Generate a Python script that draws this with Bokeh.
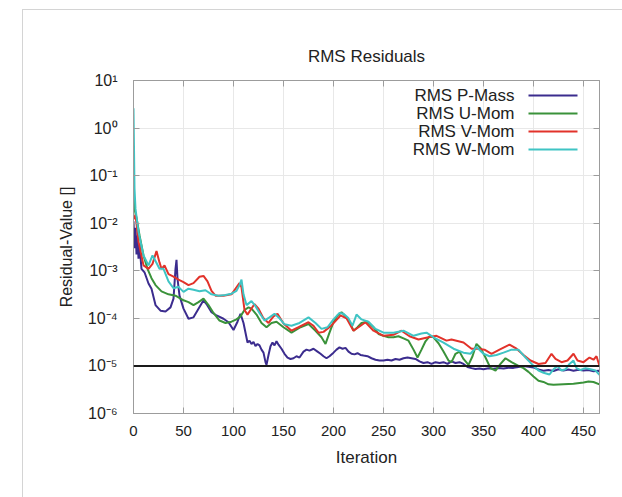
from bokeh.plotting import figure
from bokeh.models import (Range1d, FixedTicker, LinearAxis, LogAxis, Span, Label,
                          BoxAnnotation, CustomJSTickFormatter)
from bokeh.embed import file_html
from bokeh.resources import INLINE

FONT = "Liberation Sans"

# ---------------- data ----------------
x_ticks = [0, 50, 100, 150, 200, 250, 300, 350, 400, 450]
y_ticks = [1e-6, 1e-5, 1e-4, 1e-3, 1e-2, 1e-1, 1, 10]
y_tick_labels = ["10⁻⁶", "10⁻⁵", "10⁻⁴", "10⁻³", "10⁻²", "10⁻¹", "10⁰", "10¹"]
threshold = 1e-5

series_names = ["RMS P-Mass", "RMS U-Mom", "RMS V-Mom", "RMS W-Mom"]
series_colors = ["#3b2c8e", "#3a923a", "#e2322a", "#3fc4c4"]

pmass_iter = [0, 1, 2, 3, 4, 5, 6, 8, 11, 15, 18, 22, 27, 32, 37, 40, 42, 43, 44, 46,
              50, 55, 60, 65, 70, 73, 78, 83, 90, 95, 100, 104, 107, 110, 114, 116,
              118, 120, 122, 124, 126, 128, 130, 132, 133, 135, 137, 139, 141, 143,
              145, 148, 151, 154, 157, 160, 163, 166, 170, 173, 176, 180, 184, 187,
              190, 193, 196, 200, 203, 206, 209, 212, 215, 218, 221, 224, 227, 230,
              234, 238, 242, 246, 250, 254, 258, 262, 266, 270, 274, 278, 282, 286,
              290, 294, 298, 302, 306, 310, 314, 318, 322, 326, 330, 334, 338, 342,
              346, 350, 355, 360, 365, 370, 375, 380, 385, 390, 395, 400, 405, 410,
              415, 420, 425, 430, 435, 440, 445, 450, 455, 460, 465, 470]
pmass_val = [1.1e-2, 3.0e-3, 8.0e-3, 2.2e-3, 5.5e-3, 1.8e-3, 3.5e-3, 1.1e-3, 9.3e-4,
             5.4e-4, 4.2e-4, 1.9e-4, 1.45e-4, 1.4e-4, 1.7e-4, 2.6e-4, 1.1e-3, 1.7e-3,
             6.8e-4, 3.0e-4, 1.6e-4, 9.8e-5, 1.05e-4, 1.6e-4, 2.4e-4, 2.0e-4, 1.35e-4,
             1.15e-4, 9.8e-5, 8.3e-5, 5.7e-5, 8.5e-5, 1.25e-4, 8.0e-5, 3.1e-5, 3.4e-5,
             2.9e-5, 3.2e-5, 2.6e-5, 2.9e-5, 2.7e-5, 2.2e-5, 1.9e-5, 1.2e-5, 1.05e-5,
             1.7e-5, 2.6e-5, 3.1e-5, 2.7e-5, 3.3e-5, 2.8e-5, 2.3e-5, 1.8e-5, 1.5e-5,
             1.4e-5, 1.45e-5, 1.6e-5, 1.5e-5, 2.0e-5, 2.2e-5, 2.1e-5, 2.3e-5, 2.0e-5,
             1.8e-5, 1.6e-5, 1.45e-5, 1.6e-5, 1.9e-5, 2.2e-5, 2.45e-5, 2.3e-5, 2.4e-5,
             2.0e-5, 1.8e-5, 1.75e-5, 1.85e-5, 1.7e-5, 1.65e-5, 1.6e-5, 1.45e-5,
             1.35e-5, 1.3e-5, 1.3e-5, 1.35e-5, 1.3e-5, 1.4e-5, 1.35e-5, 1.45e-5,
             1.5e-5, 1.45e-5, 1.4e-5, 1.25e-5, 1.15e-5, 1.2e-5, 1.1e-5, 1.2e-5,
             1.15e-5, 1.2e-5, 1.1e-5, 1.25e-5, 1.15e-5, 1.2e-5, 1.1e-5, 9.5e-6,
             9.0e-6, 8.6e-6, 8.8e-6, 8.5e-6, 8.9e-6, 8.7e-6, 9.0e-6, 8.8e-6, 9.2e-6,
             9.1e-6, 9.5e-6, 1.0e-5, 9.6e-6, 9.3e-6, 8.4e-6, 7.9e-6, 8.2e-6, 7.8e-6,
             8.5e-6, 8.0e-6, 8.4e-6, 7.9e-6, 8.3e-6, 8.0e-6, 8.2e-6, 7.7e-6, 7.9e-6,
             7.4e-6]

umom_iter = [0, 1, 3, 6, 10, 14, 18, 22, 28, 35, 42, 50, 55, 60, 65, 70, 75, 80, 86,
             92, 98, 103, 107, 111, 115, 118, 123, 128, 133, 138, 143, 150, 158, 167,
             175, 182, 188, 192, 196, 200, 204, 208, 212, 216, 220, 224, 228, 234,
             240, 245, 250, 255, 260, 265, 270, 275, 280, 284, 288, 292, 296, 300,
             305, 310, 315, 318, 322, 326, 330, 335, 339, 343, 347, 352, 357, 362,
             367, 372, 378, 385, 390, 395, 400, 405, 410, 415, 420, 430, 440, 450,
             455, 460, 466, 470]
umom_val = [5.4e-2, 2.0e-2, 1.3e-2, 5.6e-3, 2.1e-3, 1.1e-3, 7.0e-4, 5.0e-4, 3.7e-4,
            3.2e-4, 3.0e-4, 2.4e-4, 2.2e-4, 1.9e-4, 2.2e-4, 2.6e-4, 1.9e-4, 1.3e-4,
            9.0e-5, 8.0e-5, 8.5e-5, 9.5e-5, 1.1e-4, 1.5e-4, 1.7e-4, 1.6e-4, 1.2e-4,
            8.0e-5, 6.5e-5, 8.0e-5, 8.5e-5, 6.5e-5, 5.0e-5, 6.5e-5, 7.6e-5, 5.5e-5,
            4.0e-5, 2.9e-5, 5.0e-5, 8.3e-5, 1.15e-4, 1.35e-4, 1.1e-4, 8.5e-5, 5.5e-5,
            6.5e-5, 8.0e-5, 8.5e-5, 6.5e-5, 4.7e-5, 4.3e-5, 4.0e-5, 4.0e-5, 4.2e-5,
            3.8e-5, 3.4e-5, 2.2e-5, 1.5e-5, 2.2e-5, 3.3e-5, 4.2e-5, 4.0e-5, 3.0e-5,
            2.0e-5, 1.3e-5, 1.2e-5, 1.8e-5, 2.0e-5, 1.4e-5, 1.05e-5, 1.6e-5, 2.9e-5,
            2.4e-5, 1.5e-5, 9.0e-6, 8.0e-6, 1.1e-5, 1.45e-5, 1.2e-5, 1.0e-5, 9.0e-6,
            7.5e-6, 6.0e-6, 4.9e-6, 4.6e-6, 4.1e-6, 4.0e-6, 4.1e-6, 4.2e-6, 4.5e-6,
            4.7e-6, 4.6e-6, 4.1e-6, 3.8e-6]

vmom_iter = [0, 2, 5, 10, 15, 19, 23, 26, 28, 31, 35, 40, 45, 50, 55, 60, 66, 70, 74,
             78, 82, 90, 98, 103, 106, 108, 111, 114, 117, 121, 125, 130, 135, 140,
             144, 150, 158, 165, 175, 180, 185, 190, 198, 207, 213, 220, 225, 232,
             240, 250, 260, 268, 276, 285, 295, 303, 313, 318, 325, 330, 338, 345,
             351, 358, 366, 376, 383, 390, 397, 405, 412, 418, 422, 428, 434, 440,
             444, 450, 456, 460, 463, 466, 470]
vmom_val = [1.2e-2, 1.5e-2, 4.1e-3, 1.3e-3, 1.1e-3, 1.4e-3, 2.6e-3, 1.5e-3, 1.1e-3,
            1.3e-3, 8.5e-4, 7.5e-4, 6.5e-4, 5.8e-4, 5.0e-4, 5.5e-4, 7.5e-4, 7.8e-4,
            6.0e-4, 3.8e-4, 3.0e-4, 3.0e-4, 3.2e-4, 4.5e-4, 5.5e-4, 4.5e-4, 1.5e-4,
            1.2e-4, 1.5e-4, 2.0e-4, 1.6e-4, 1.0e-4, 8.0e-5, 1.1e-4, 1.25e-4, 7.8e-5,
            5.5e-5, 6.5e-5, 8.3e-5, 7.0e-5, 5.0e-5, 5.2e-5, 7.1e-5, 1.15e-4, 1.0e-4,
            5.5e-5, 6.5e-5, 8.3e-5, 5.5e-5, 4.3e-5, 4.5e-5, 5.5e-5, 4.2e-5, 3.6e-5,
            4.0e-5, 4.3e-5, 3.4e-5, 3.6e-5, 3.3e-5, 3.1e-5, 2.3e-5, 2.3e-5, 2.2e-5,
            1.8e-5, 2.2e-5, 2.8e-5, 2.3e-5, 1.7e-5, 1.3e-5, 1.1e-5, 1.15e-5, 1.8e-5,
            1.4e-5, 1.2e-5, 1.3e-5, 1.8e-5, 1.3e-5, 1.2e-5, 1.5e-5, 1.35e-5, 1.6e-5,
            1.0e-5, 8.0e-6]

wmom_iter = [0, 1, 2, 5, 10, 15, 19, 22, 26, 30, 35, 40, 45, 50, 55, 60, 66, 72, 78,
             85, 92, 98, 103, 106, 108, 110, 113, 118, 122, 126, 131, 136, 141, 146,
             151, 158, 166, 175, 182, 188, 194, 200, 206, 210, 215, 219, 223, 228,
             235, 242, 250, 260, 270, 280, 288, 293, 300, 310, 320, 330, 337, 343,
             350, 356, 363, 370, 378, 385, 392, 400, 405, 410, 416, 420, 424, 428,
             432, 436, 440, 443, 447, 452, 457, 462, 466, 470]
wmom_val = [2.6, 5.4e-2, 2.0e-2, 6.6e-3, 2.1e-3, 1.3e-3, 2.1e-3, 1.6e-3, 1.1e-3,
            1.1e-3, 6.0e-4, 4.3e-4, 4.6e-4, 3.6e-4, 4.2e-4, 4.0e-4, 3.7e-4, 3.9e-4,
            3.2e-4, 3.0e-4, 3.1e-4, 3.3e-4, 3.8e-4, 5.0e-4, 6.5e-4, 3.2e-4, 1.9e-4,
            2.3e-4, 1.8e-4, 1.3e-4, 9.0e-5, 1.05e-4, 1.25e-4, 1.0e-4, 7.5e-5, 7.0e-5,
            8.0e-5, 1.05e-4, 8.0e-5, 6.0e-5, 6.5e-5, 9.5e-5, 1.3e-4, 1.25e-4, 1.0e-4,
            7.0e-5, 1.2e-4, 9.5e-5, 8.5e-5, 6.0e-5, 5.0e-5, 5.0e-5, 5.5e-5, 4.3e-5,
            4.8e-5, 5.0e-5, 4.0e-5, 3.1e-5, 2.3e-5, 1.9e-5, 1.8e-5, 2.5e-5, 1.8e-5,
            1.6e-5, 1.7e-5, 1.9e-5, 2.2e-5, 2.2e-5, 1.5e-5, 1.0e-5, 8.0e-6, 7.2e-6,
            6.6e-6, 8.5e-6, 1.0e-5, 8.0e-6, 8.5e-6, 1.1e-5, 1.3e-5, 9.0e-6, 8.2e-6,
            9.0e-6, 8.5e-6, 8.0e-6, 6.5e-6, 5.6e-6]

series_iters = [pmass_iter, umom_iter, vmom_iter, wmom_iter]
series_vals = [pmass_val, umom_val, vmom_val, wmom_val]

# ---------------- figure ----------------
AXIS_GRAY = "#9c9c9c"
TEXT = "#222222"

p = figure(width=600, height=488, x_range=Range1d(0, 466), y_range=Range1d(1e-6, 10),
           y_axis_type="log", output_backend="svg", toolbar_location=None,
           title="RMS Residuals", margin=(9, 0, 0, 22),
           min_border_left=110, min_border_right=24, min_border_top=70,
           min_border_bottom=85)
p.styles = {"border-left": "1px solid #d4d4d4", "border-top": "1px solid #d4d4d4"}
p.background_fill_color = "white"
p.border_fill_color = "white"
p.outline_line_color = AXIS_GRAY

p.title.align = "center"
p.title.text_font = FONT
p.title.text_font_size = "17px"
p.title.text_font_style = "normal"
p.title.text_color = TEXT
p.title.standoff = 30

x_ticker = FixedTicker(ticks=x_ticks)
y_ticker = FixedTicker(ticks=y_ticks, minor_ticks=[])
y_overrides = dict(zip(y_ticks, y_tick_labels))

def style_axis(ax):
    ax.axis_line_color = AXIS_GRAY
    ax.major_tick_line_color = AXIS_GRAY
    ax.major_tick_in = 6
    ax.major_tick_out = 0
    ax.minor_tick_line_color = None
    ax.major_label_text_font = FONT
    ax.major_label_text_color = TEXT
    ax.axis_label_text_font = FONT
    ax.axis_label_text_color = TEXT
    ax.axis_label_text_font_style = "normal"

xa = p.xaxis[0]
xa.ticker = x_ticker
style_axis(xa)
xa.major_label_text_font_size = "15px"
xa.major_label_standoff = 12
xa.axis_label = "Iteration"
xa.axis_label_text_font_size = "17px"
xa.axis_label_standoff = 9

ya = p.yaxis[0]
ya.ticker = y_ticker
style_axis(ya)
ya.major_label_overrides = y_overrides
ya.major_label_text_font_size = "16px"
ya.major_label_standoff = 16
ya.axis_label = "Residual-Value []"
ya.axis_label_text_font_size = "16px"
ya.axis_label_standoff = 10

# mirrored ticks on the top and right edges (no labels)
blank = CustomJSTickFormatter(code="return '';")
top_ax = LinearAxis(ticker=x_ticker, formatter=blank, major_label_standoff=0)
style_axis(top_ax)
p.add_layout(top_ax, "above")
right_ax = LogAxis(ticker=y_ticker, formatter=blank, major_label_standoff=0)
style_axis(right_ax)
p.add_layout(right_ax, "right")

p.xgrid.ticker = x_ticker
p.ygrid.ticker = y_ticker
p.xgrid.grid_line_color = "#e8e8e8"
p.ygrid.grid_line_color = "#e8e8e8"

for xs, ys, c in zip(series_iters, series_vals, series_colors):
    p.line(xs, ys, line_color=c, line_width=2)

p.add_layout(Span(location=threshold, dimension="width", line_color="#1a1a1a",
                  line_width=2))

# gnuplot-style key: right-aligned labels with the line sample on their right
key_text_right = 381
key_line_left, key_line_right = 395, 444
key_top, key_step = 318, 18
for i, (name, c) in enumerate(zip(series_names, series_colors)):
    yk = key_top - i * key_step
    p.add_layout(Label(x=key_text_right, y=yk, x_units="screen", y_units="screen",
                       text=name, text_align="right", text_baseline="middle",
                       text_font=FONT, text_font_size="17px", text_color=TEXT))
    p.add_layout(BoxAnnotation(left=key_line_left, right=key_line_right,
                               bottom=yk - 1, top=yk + 1, left_units="screen",
                               right_units="screen", top_units="screen",
                               bottom_units="screen", fill_color=c, fill_alpha=1,
                               line_alpha=0))

open("out.html", "w").write(file_html(p, INLINE))
